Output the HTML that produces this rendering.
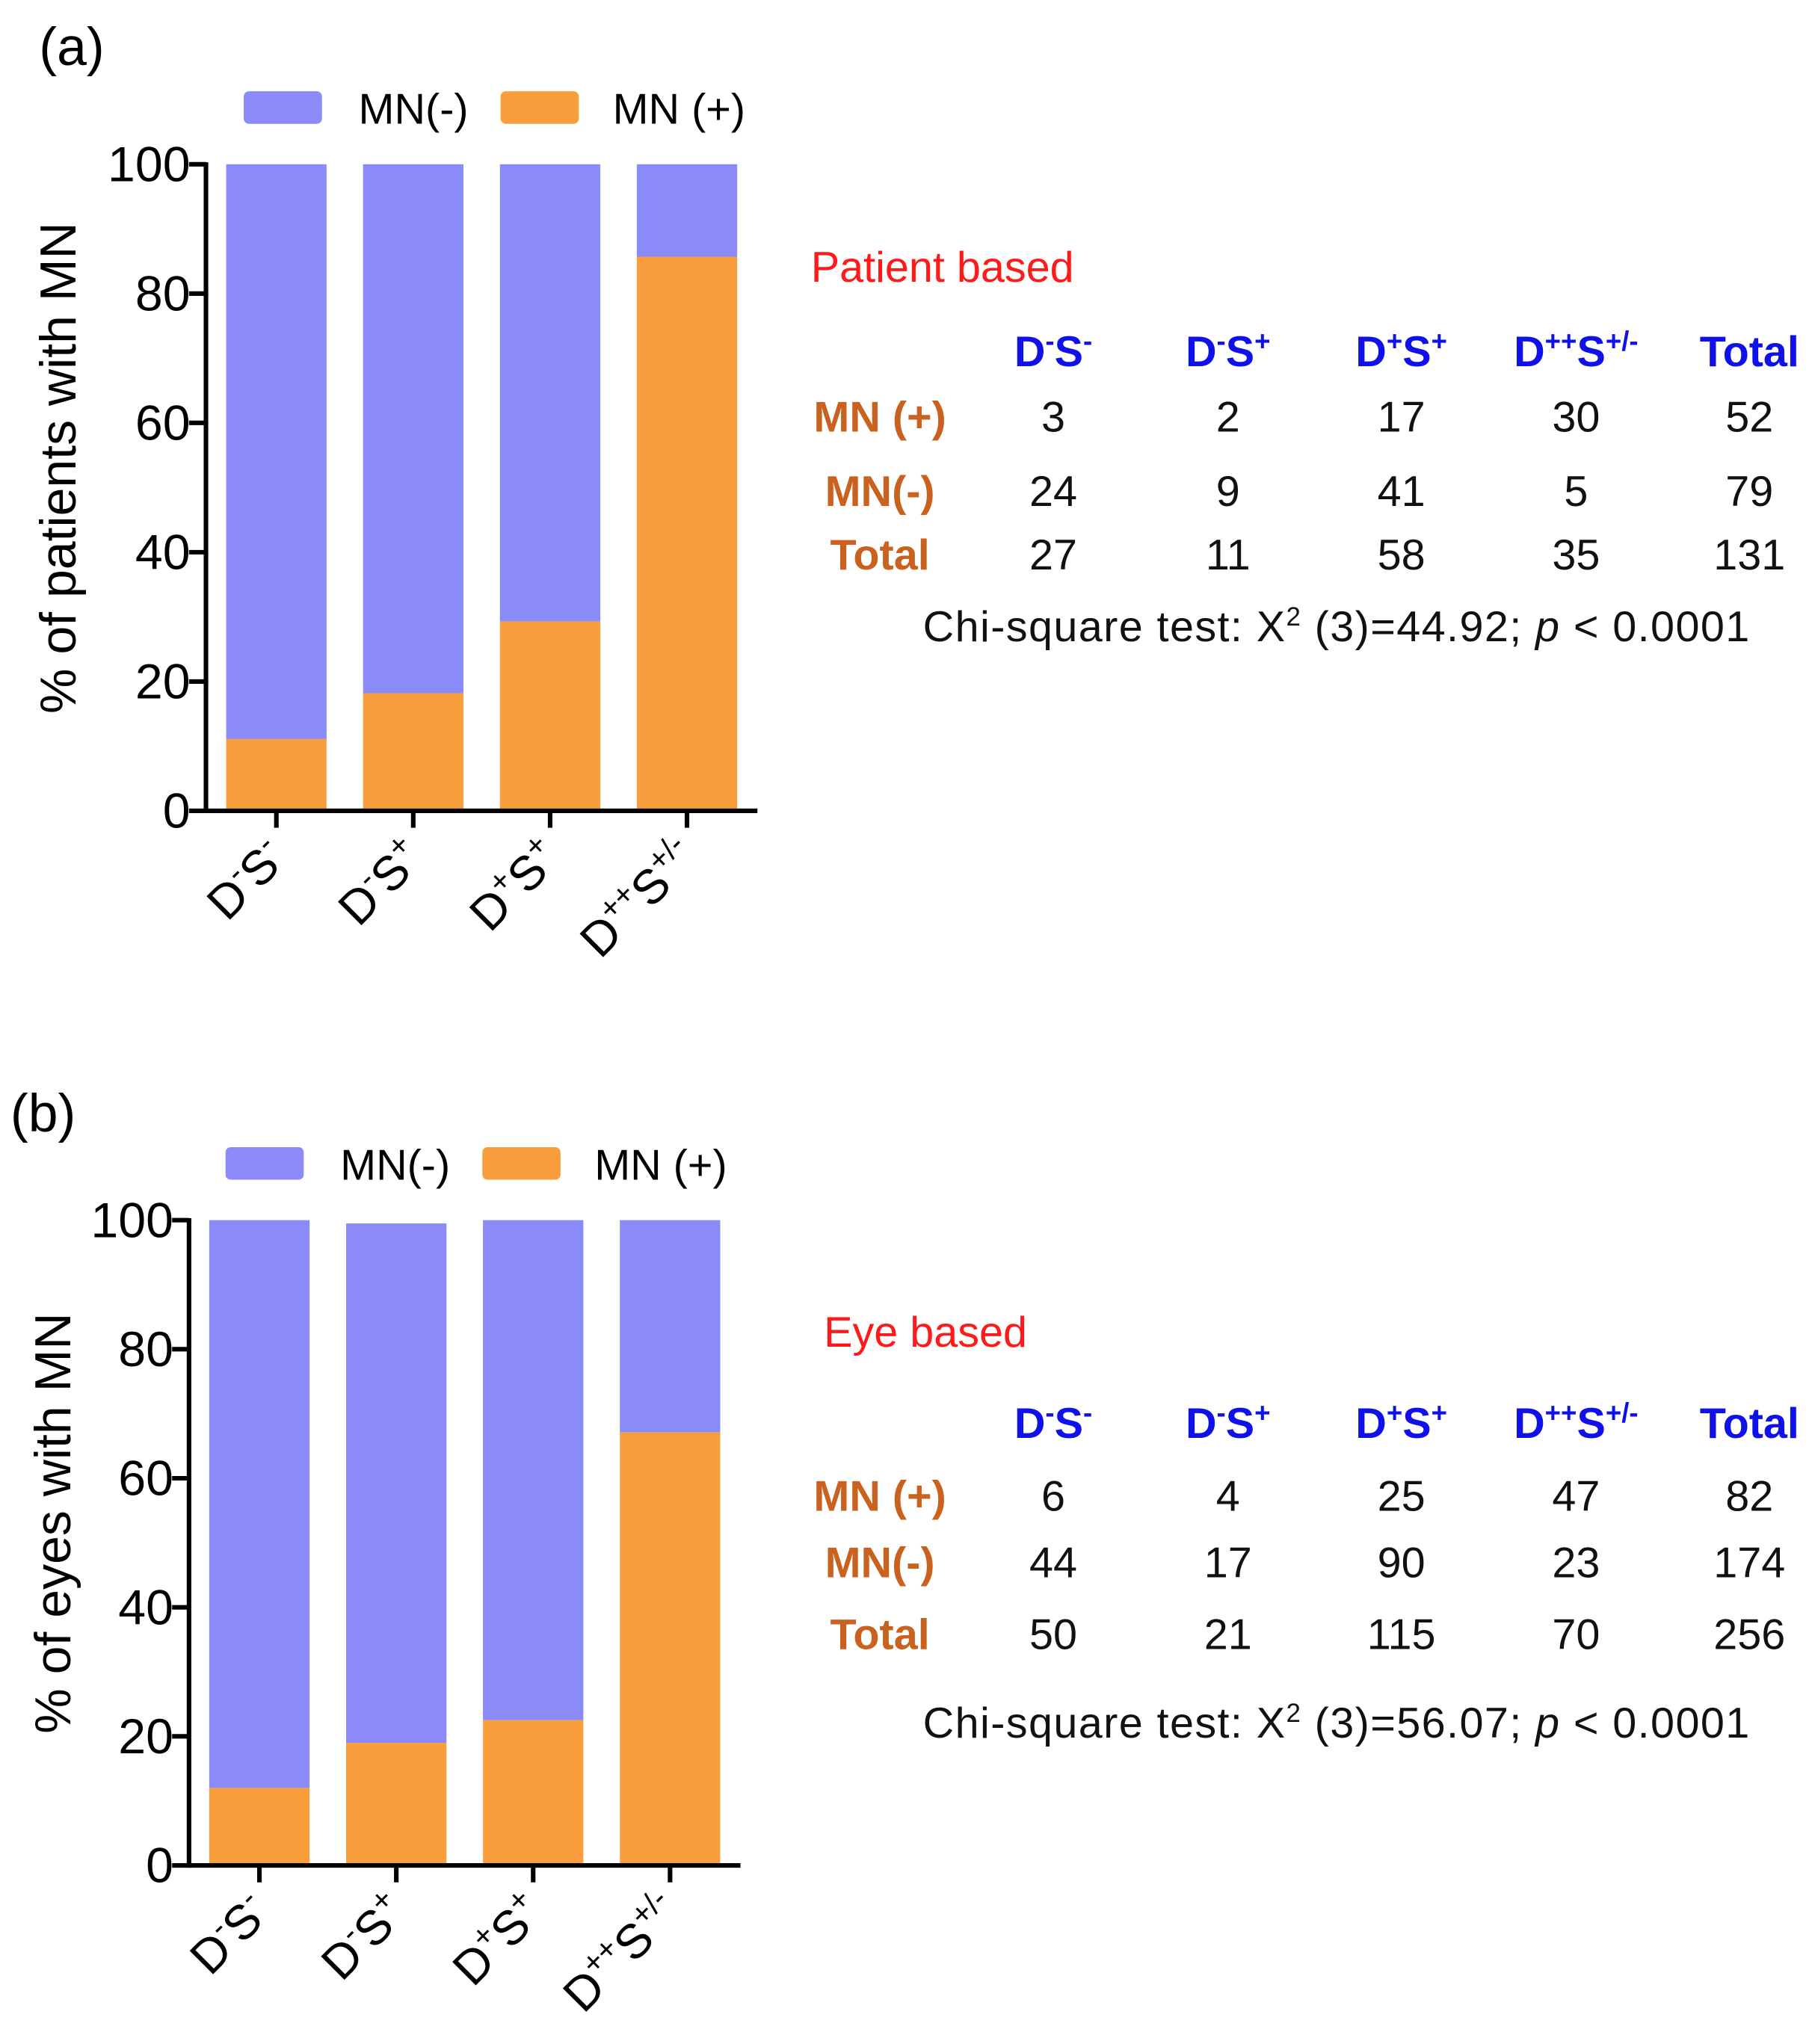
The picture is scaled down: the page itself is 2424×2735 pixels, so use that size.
<!DOCTYPE html>
<html><head><meta charset="utf-8"><style>
html,body{margin:0;padding:0;background:#fff;}
svg{display:block;font-family:"Liberation Sans",Arial,sans-serif;}
</style></head><body>
<svg id="fig" width="2424" height="2735" viewBox="0 0 1390 1568" preserveAspectRatio="none" xmlns="http://www.w3.org/2000/svg">
<g id="ga"></g>
<g id="gb"></g>
<text x="30" y="50" font-size="41">(a)</text>
<text x="8" y="868" font-size="41">(b)</text>

<g>
<text x="622" y="216" font-size="33" fill="#ff1a1a">Patient based</text>
<g font-weight="bold" font-size="33" fill="#1010e8" text-anchor="middle">
<text x="808" y="281">D<tspan font-size="21" dy="-12">-</tspan><tspan dy="12">S</tspan><tspan font-size="21" dy="-12">-</tspan></text>
<text x="942" y="281">D<tspan font-size="21" dy="-12">-</tspan><tspan dy="12">S</tspan><tspan font-size="21" dy="-12">+</tspan></text>
<text x="1075" y="281">D<tspan font-size="21" dy="-12">+</tspan><tspan dy="12">S</tspan><tspan font-size="21" dy="-12">+</tspan></text>
<text x="1209" y="281">D<tspan font-size="21" dy="-12">++</tspan><tspan dy="12">S</tspan><tspan font-size="21" dy="-12">+/-</tspan></text>
<text x="1342" y="281">Total</text>
</g>
<g font-weight="bold" font-size="33" fill="#c8621e" text-anchor="middle">
<text x="675" y="331">MN (+)</text><text x="675" y="388">MN(-)</text><text x="675" y="437">Total</text>
</g>
<g font-size="33" fill="#111" text-anchor="middle">
<text x="808" y="331">3</text><text x="942" y="331">2</text><text x="1075" y="331">17</text><text x="1209" y="331">30</text><text x="1342" y="331">52</text>
<text x="808" y="388">24</text><text x="942" y="388">9</text><text x="1075" y="388">41</text><text x="1209" y="388">5</text><text x="1342" y="388">79</text>
<text x="808" y="437">27</text><text x="942" y="437">11</text><text x="1075" y="437">58</text><text x="1209" y="437">35</text><text x="1342" y="437">131</text>
</g>
<text x="708" y="492" font-size="33" fill="#111" textLength="634">Chi-square test:  X<tspan font-size="20" dy="-12">2</tspan><tspan dy="12"> (3)=44.92; </tspan><tspan font-style="italic">p</tspan> &lt; 0.0001</text>
</g>

<g>
<text x="632" y="1033" font-size="33" fill="#ff1a1a">Eye based</text>
<g font-weight="bold" font-size="33" fill="#1010e8" text-anchor="middle">
<text x="808" y="1103">D<tspan font-size="21" dy="-12">-</tspan><tspan dy="12">S</tspan><tspan font-size="21" dy="-12">-</tspan></text>
<text x="942" y="1103">D<tspan font-size="21" dy="-12">-</tspan><tspan dy="12">S</tspan><tspan font-size="21" dy="-12">+</tspan></text>
<text x="1075" y="1103">D<tspan font-size="21" dy="-12">+</tspan><tspan dy="12">S</tspan><tspan font-size="21" dy="-12">+</tspan></text>
<text x="1209" y="1103">D<tspan font-size="21" dy="-12">++</tspan><tspan dy="12">S</tspan><tspan font-size="21" dy="-12">+/-</tspan></text>
<text x="1342" y="1103">Total</text>
</g>
<g font-weight="bold" font-size="33" fill="#c8621e" text-anchor="middle">
<text x="675" y="1159">MN (+)</text><text x="675" y="1210">MN(-)</text><text x="675" y="1265">Total</text>
</g>
<g font-size="33" fill="#111" text-anchor="middle">
<text x="808" y="1159">6</text><text x="942" y="1159">4</text><text x="1075" y="1159">25</text><text x="1209" y="1159">47</text><text x="1342" y="1159">82</text>
<text x="808" y="1210">44</text><text x="942" y="1210">17</text><text x="1075" y="1210">90</text><text x="1209" y="1210">23</text><text x="1342" y="1210">174</text>
<text x="808" y="1265">50</text><text x="942" y="1265">21</text><text x="1075" y="1265">115</text><text x="1209" y="1265">70</text><text x="1342" y="1265">256</text>
</g>
<text x="708" y="1333" font-size="33" fill="#111" textLength="634">Chi-square test:  X<tspan font-size="20" dy="-12">2</tspan><tspan dy="12"> (3)=56.07; </tspan><tspan font-style="italic">p</tspan> &lt; 0.0001</text>
</g>
</svg>
<script>
const categories = [["-","-"],["-","+"],["+","+"],["++","+/-"]];
const yTicks = [0,20,40,60,80,100];
const patientPos = [11.1, 18.2, 29.3, 85.7];
const patientNeg = [88.9, 81.8, 70.7, 14.3];
const eyePos = [12.0, 19.0, 22.5, 67.1];
const eyeNeg = [88.0, 80.5, 77.5, 32.9];
const NS = "http://www.w3.org/2000/svg";
const PURPLE = "#8a8af8", ORANGE = "#f99e3c";

function mk(parent, tag, attrs, text) {
  const e = document.createElementNS(NS, tag);
  for (const k in attrs) e.setAttribute(k, attrs[k]);
  if (text !== undefined) e.textContent = text;
  parent.appendChild(e);
  return e;
}

function drawChart(g, ax, pos, neg, title, prefix) {
  const yScale = v => ax.y0 - (v / 100) * (ax.y0 - ax.y100);
  const xCenter = i => ax.x0 + ax.first + i * ax.step;
  let r = mk(g, "rect", {x: ax.legX, y: ax.legY, width: 60, height: 25, rx: 4, fill: PURPLE});
  
  
  let t = mk(g, "text", {x: ax.legX + 88, y: ax.legY + 25, "font-size": 33}, "MN(-)");
  
  
  r = mk(g, "rect", {x: ax.legX + 197, y: ax.legY, width: 60, height: 25, rx: 4, fill: ORANGE});
  
  
  t = mk(g, "text", {x: ax.legX + 283, y: ax.legY + 25, "font-size": 33}, "MN (+)");
  
  
  for (let i = 0; i < categories.length; i++) {
    const cx = xCenter(i), w = 77;
    const yp = yScale(pos[i]);
    const yn = yScale(pos[i] + neg[i]);
    const b1 = mk(g, "rect", {x: cx - w/2, y: yn, width: w, height: yp - yn, fill: PURPLE});
    
    
    const b2 = mk(g, "rect", {x: cx - w/2, y: yp, width: w, height: ax.y0 - yp, fill: ORANGE});
    
    
    const tk = mk(g, "line", {x1: cx, x2: cx, y1: ax.y0, y2: ax.y0 + 13, stroke: "#000", "stroke-width": 3.5});
    
    
    const c = categories[i];
    const lx = cx + 10, ly = ax.y0 + 38;
    const lab = mk(g, "text", {x: lx, y: ly, "font-size": 37, "text-anchor": "end", transform: `rotate(-45 ${lx} ${ly})`});
    
    
    lab.appendChild(document.createTextNode("D"));
    mk(lab, "tspan", {"font-size": 24, dy: -15}, c[0]);
    mk(lab, "tspan", {dy: 15}, "S");
    mk(lab, "tspan", {"font-size": 24, dy: -15}, c[1]);
  }
  let a = mk(g, "line", {x1: ax.x0, x2: ax.x0, y1: ax.y100 - 1.5, y2: ax.y0 + 1.75, stroke: "#000", "stroke-width": 3.5});
  
  
  a = mk(g, "line", {x1: ax.x0, x2: ax.xEnd, y1: ax.y0, y2: ax.y0, stroke: "#000", "stroke-width": 3.5});
  
  
  for (const v of yTicks) {
    const y = yScale(v);
    const l = mk(g, "line", {x1: ax.x0 - 13, x2: ax.x0, y1: y, y2: y, stroke: "#000", "stroke-width": 3.5});
    
    
    const tl = mk(g, "text", {x: ax.x0 - 12, y: y + 13, "font-size": 38, "text-anchor": "end"}, String(v));
    
    
  }
  const ty = (ax.y0 + ax.y100) / 2 - 15;
  const yt = mk(g, "text", {x: ax.titleX, y: ty, "font-size": 39, "text-anchor": "middle", transform: `rotate(-90 ${ax.titleX} ${ty})`}, title);
  
  
}

drawChart(document.getElementById("ga"),
  {x0: 158, xEnd: 581, y0: 622, y100: 126, first: 54, step: 105, legX: 187, legY: 70, titleX: 58},
  patientPos, patientNeg, "% of patients with MN", "patient");
drawChart(document.getElementById("gb"),
  {x0: 145, xEnd: 568, y0: 1431, y100: 936, first: 54, step: 105, legX: 173, legY: 880, titleX: 54},
  eyePos, eyeNeg, "% of eyes with MN", "eye");
</script>
</body></html>
